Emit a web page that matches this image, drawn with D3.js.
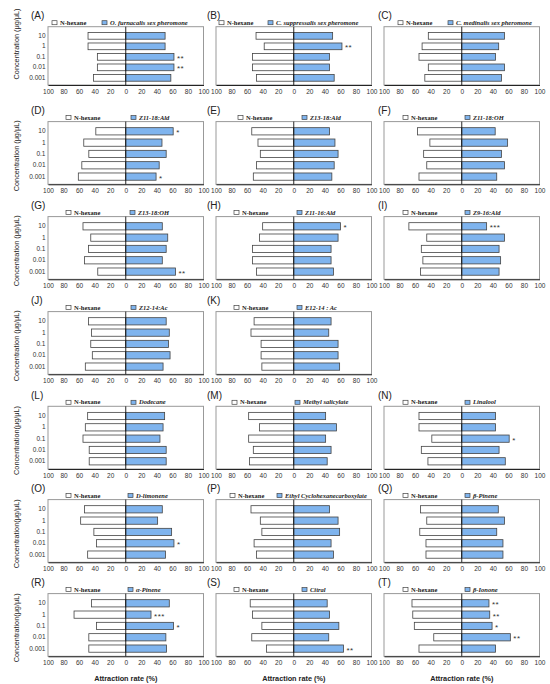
<!DOCTYPE html>
<html>
<head>
<meta charset="utf-8">
<script src="https://cdn.jsdelivr.net/npm/d3@7"></script>
<style>
  body { margin: 0; background: #fff; }
  svg { display: block; }
</style>
</head>
<body>
<div id="chart"></div>
<script>
const concentrations = ['10', '1', '0.1', '0.01', '0.001'];
const panelLetters = ['A','B','C','D','E','F','G','H','I','J','K','L','M','N','O','P','Q','R','S','T'];
const treatments = [
    'O. furnacalis sex pheromone', 'C. suppressalis sex pheromone', 'C. medinalis sex pheromone',
    'Z11-18:Ald', 'Z13-18:Ald', 'Z11-18:OH',
    'Z13-18:OH', 'Z11-16:Ald', 'Z9-16:Ald',
    'Z12-14:Ac', 'E12-14 : Ac',
    'Dodecane', 'Methyl salicylate', 'Linalool',
    'D-limonene', 'Ethyl Cyclohexanecarboxylate', 'β-Pinene',
    'α-Pinene', 'Citral', 'β-Ionone'
];
// attraction rate (%) per concentration, order 10 .. 0.001
const hexaneRates = [
    [48.5, 48.5, 36.5, 36.5, 41.6], [48.5, 38, 53, 53, 48], [43, 51, 55, 43, 47.5],
    [38.5, 54, 47.5, 56.5, 61], [54, 46, 43, 48, 52], [57, 41, 49, 45, 55],
    [55, 45, 48, 53, 36], [40, 44, 53, 53, 48], [68, 45, 52, 50, 53],
    [48, 44, 45, 43, 52], [51, 55, 42, 42, 41],
    [49, 52, 55, 47, 47], [58, 44, 58, 52, 57], [55, 55, 38.5, 52, 43.5],
    [53, 58, 41, 37.5, 49], [55, 43, 41, 51, 48], [53, 45, 54, 46, 46],
    [44, 66.5, 37.5, 47.5, 47.5], [56, 53, 41, 54, 35], [64, 63, 61, 36, 55]
];
const treatmentRates = [
    [50.6, 50.6, 62, 62, 58], [50, 62, 46, 46, 52], [55, 47.5, 43.5, 55, 51],
    [61, 46.6, 52, 43, 39], [46, 53, 57, 52, 49], [43, 59, 51, 55, 45],
    [47, 54, 52, 47, 64], [60, 57, 48, 48, 51], [32, 55, 48, 50, 48],
    [52, 56, 55, 57, 48], [48, 45, 57, 57, 59],
    [50, 48, 44, 52, 52], [41, 55, 41, 48, 43], [43.5, 43.5, 61, 48, 56],
    [47, 41, 59, 62, 51], [46, 57, 59, 48, 51], [47, 55, 45, 53, 53],
    [56, 32.5, 61.5, 51.6, 52.5], [43, 46, 58, 45, 64], [35, 36, 39, 62.5, 43.5]
];
const significance = [
    ['', '', '**', '**', ''], ['', '**', '', '', ''], ['', '', '', '', ''],
    ['*', '', '', '', '*'], ['', '', '', '', ''], ['', '', '', '', ''],
    ['', '', '', '', '**'], ['*', '', '', '', ''], ['***', '', '', '', ''],
    ['', '', '', '', ''], ['', '', '', '', ''],
    ['', '', '', '', ''], ['', '', '', '', ''], ['', '', '*', '', ''],
    ['', '', '', '*', ''], ['', '', '', '', ''], ['', '', '', '', ''],
    ['', '***', '*', '', ''], ['', '', '', '', '**'], ['**', '**', '*', '**', '']
];
const xTickValues = [-100, -80, -60, -40, -20, 0, 20, 40, 60, 80, 100];

// layout
const W = 550, H = 684;
const plotW = 155.5;
const colX = [48, 216, 384];
const labelX = [31, 207, 378];
const rowY = [0, 95.8, 190.8, 285.8, 380.5, 473.8, 567.8];
// legend box offsets (hexane, treatment) from panel left
const legendPos = [
    [4, 54], [3, 52], [14, 64],
    [18, 83], [22, 86], [19, 81],
    [18, 82], [18, 81], [19, 81],
    [18, 83], [18, 81],
    [18, 83], [16, 79], [19, 81],
    [18, 80], [14, 61], [19, 81],
    [18, 80], [18, 86], [19, 81]
];

function gridPos(i) {
    if (i < 9) return [Math.floor(i / 3), i % 3];
    if (i < 11) return [3, i - 9];
    return [4 + Math.floor((i - 11) / 3), (i - 11) % 3];
}

const svg = d3.select('#chart').append('svg')
    .attr('width', W)
    .attr('height', H)
    .style('font-family', '"Liberation Sans", Arial, sans-serif');

panelLetters.forEach((letter, i) => {
    const [r, c] = gridPos(i);
    const x0 = colX[c];
    const off = rowY[r];
    const top = off + (r === 0 ? 26.7 : 25.8);
    const bottom = off + (r === 0 ? 85 : 88.5);

    const x = d3.scaleLinear().domain([-100, 100]).range([x0, x0 + plotW]);
    const y = d3.scaleBand().domain(concentrations).range([top + 2, bottom]).padding(0.36);

    const g = svg.append('g');

    // frame
    g.append('rect')
        .attr('x', x0).attr('y', top)
        .attr('width', plotW).attr('height', bottom - top)
        .attr('fill', 'none').attr('stroke', '#999').attr('stroke-width', 1);

    // panel letter
    g.append('text')
        .attr('x', labelX[c]).attr('y', off + 18.5)
        .attr('font-size', 10).attr('fill', '#222')
        .text(`(${letter})`);

    // legend
    const ly = top - 4;
    const lp = legendPos[i];
    g.append('rect').attr('x', x0 + lp[0]).attr('y', ly - 2).attr('width', 5).attr('height', 4)
        .attr('fill', '#fff').attr('stroke', '#444').attr('stroke-width', 0.7);
    g.append('text').attr('x', x0 + lp[0] + 8).attr('y', ly + 2)
        .attr('font-family', '"Liberation Serif", "Times New Roman", serif')
        .attr('font-weight', 'bold').attr('font-size', 6.5).attr('fill', '#222')
        .text('N-hexane');
    g.append('rect').attr('x', x0 + lp[1]).attr('y', ly - 2).attr('width', 5).attr('height', 4)
        .attr('fill', '#7fb4ee').attr('stroke', '#444').attr('stroke-width', 0.7);
    g.append('text').attr('x', x0 + lp[1] + 8).attr('y', ly + 2)
        .attr('font-family', '"Liberation Serif", "Times New Roman", serif')
        .attr('font-weight', 'bold').attr('font-style', 'italic')
        .attr('font-size', 6.5).attr('fill', '#222')
        .text(treatments[i]);

    // hexane bars (to the left)
    g.append('g').selectAll('rect')
        .data(hexaneRates[i])
        .join('rect')
        .attr('x', d => x(-d))
        .attr('y', (d, j) => y(concentrations[j]))
        .attr('width', d => x(0) - x(-d))
        .attr('height', y.bandwidth())
        .attr('fill', '#fff')
        .attr('stroke', '#444')
        .attr('stroke-width', 0.8);

    // treatment bars (to the right)
    g.append('g').selectAll('rect')
        .data(treatmentRates[i])
        .join('rect')
        .attr('x', x(0))
        .attr('y', (d, j) => y(concentrations[j]))
        .attr('width', d => x(d) - x(0))
        .attr('height', y.bandwidth())
        .attr('fill', '#7fb4ee')
        .attr('stroke', '#444')
        .attr('stroke-width', 0.8);

    // significance marks
    g.append('g').selectAll('text')
        .data(significance[i])
        .join('text')
        .attr('x', (d, j) => x(treatmentRates[i][j]) + 3)
        .attr('y', (d, j) => y(concentrations[j]) + y.bandwidth() / 2 + 4)
        .attr('font-size', 8).attr('fill', '#333')
        .attr('letter-spacing', 0.5)
        .text(d => d);

    // zero line
    g.append('line')
        .attr('x1', x(0)).attr('x2', x(0))
        .attr('y1', top).attr('y2', bottom)
        .attr('stroke', '#111').attr('stroke-width', 0.9);

    // x axis
    const xAxis = g.append('g')
        .attr('transform', `translate(0,${bottom})`)
        .call(d3.axisBottom(x).tickValues(xTickValues).tickSize(0).tickPadding(4)
            .tickFormat(d => Math.abs(d)));
    xAxis.select('.domain').attr('stroke', '#111').attr('stroke-width', 0.9);
    xAxis.selectAll('text').attr('font-size', 6.5).attr('fill', '#333')
        .attr('font-family', '"Liberation Sans", Arial, sans-serif');

    // y axis labels on the left column only
    if (c === 0) {
        const yAxis = g.append('g')
            .attr('transform', `translate(${x0},0)`)
            .call(d3.axisLeft(y).tickSize(0).tickPadding(2.5));
        yAxis.select('.domain').remove();
        yAxis.selectAll('text').attr('font-size', 6.5).attr('fill', '#333')
            .attr('font-family', '"Liberation Sans", Arial, sans-serif');

        const cy = off + (r === 0 ? 44 : 60);
        g.append('text')
            .attr('transform', `translate(19,${cy}) rotate(-90)`)
            .attr('text-anchor', 'middle')
            .attr('font-size', 7.3).attr('fill', '#222')
            .text(r >= 4 ? 'Concentration(μg/μL)' : 'Concentration (μg/μL)');
    }

    // x title on the bottom row
    if (r === 6) {
        g.append('text')
            .attr('x', x(0)).attr('y', 681)
            .attr('text-anchor', 'middle')
            .attr('font-size', 7.3).attr('font-weight', 'bold').attr('fill', '#222')
            .text('Attraction rate (%)');
    }
});
</script>
</body>
</html>
